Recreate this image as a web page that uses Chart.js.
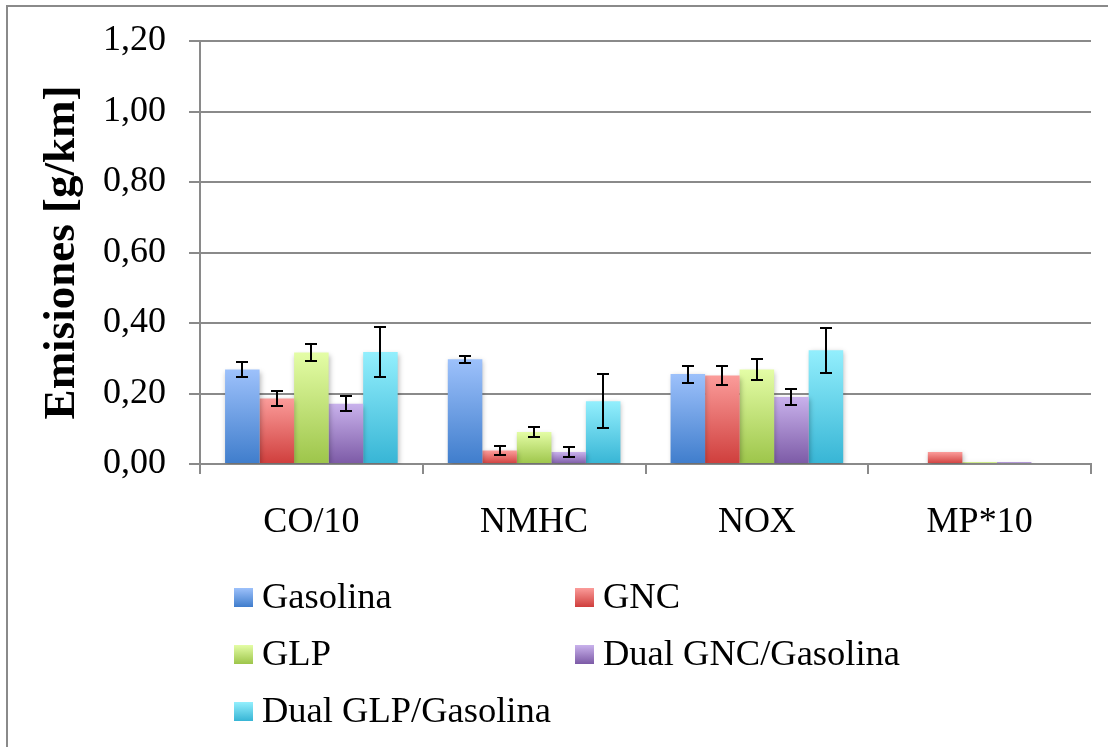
<!DOCTYPE html>
<html lang="es">
<head>
<meta charset="utf-8">
<title>Emisiones por combustible</title>
<script src="https://cdn.jsdelivr.net/npm/chart.js@4.4.1/dist/chart.umd.min.js"></script>
<style>
  html, body { margin: 0; padding: 0; background: #ffffff; }
  #wrap { position: relative; width: 1108px; height: 747px; overflow: hidden; }
  canvas { display: block; }
</style>
</head>
<body>
<div id="wrap"><canvas id="chart" width="1108" height="747"></canvas></div>
<script>
// Categories (pollutants)
const categories = ['CO/10', 'NMHC', 'NOX', 'MP*10'];

// Series labels
const seriesNames = ['Gasolina', 'GNC', 'GLP', 'Dual GNC/Gasolina', 'Dual GLP/Gasolina'];

// Mean emissions [g/km]
const gasolina = [0.268, 0.297, 0.255, 0];
const gnc      = [0.186, 0.038, 0.251, 0.034];
const glp      = [0.316, 0.091, 0.268, 0.006];
const dualGnc  = [0.171, 0.034, 0.190, 0.006];
const dualGlp  = [0.318, 0.178, 0.323, 0];

// Error bar half-widths [g/km]
const gasolinaErr = [0.020, 0.010, 0.024, null];
const gncErr      = [0.022, 0.012, 0.026, null];
const glpErr      = [0.025, 0.015, 0.029, null];
const dualGncErr  = [0.021, 0.014, 0.023, null];
const dualGlpErr  = [0.070, 0.077, 0.064, null];

// Y axis tick labels
const yTickLabels = ['0,00', '0,20', '0,40', '0,60', '0,80', '1,00', '1,20'];

// Top / bottom shades of each series gradient
const seriesShades = [
  ['#9dc1fb', '#3f7dcc'],
  ['#fb9c9a', '#cf3e3c'],
  ['#e4fda6', '#9dc54a'],
  ['#c9b2ec', '#7c5aa6'],
  ['#93effd', '#37b5d5']
];

const FONT = "'Liberation Serif', 'Times New Roman', serif";
const GRID = '#8a8a8a';

function barFill(idx) {
  return (ctx) => {
    const chart = ctx.chart;
    const [top, bottom] = seriesShades[idx];
    if (ctx.type !== 'data' || !chart.chartArea || !chart.scales.y) return bottom;
    const y = chart.scales.y;
    const pTop = y.getPixelForValue(ctx.raw);
    const pBase = y.getPixelForValue(0);
    if (pBase - pTop < 2) return bottom;
    const g = chart.ctx.createLinearGradient(0, pTop, 0, pBase);
    g.addColorStop(0, top);
    g.addColorStop(1, bottom);
    return g;
  };
}

const values = [gasolina, gnc, glp, dualGnc, dualGlp];
const errors = [gasolinaErr, gncErr, glpErr, dualGncErr, dualGlpErr];

const datasets = seriesNames.map((name, i) => ({
  label: name,
  data: values[i],
  errors: errors[i],
  backgroundColor: barFill(i),
  borderWidth: 0,
  categoryPercentage: 0.775,
  barPercentage: 1.0
}));

// Outer frame around the figure
const framePlugin = {
  id: 'frame',
  beforeDraw(chart) {
    const c = chart.ctx;
    c.save();
    c.fillStyle = '#ffffff';
    c.fillRect(0, 0, chart.width, chart.height);
    c.strokeStyle = '#8a8a8a';
    c.lineWidth = 2;
    c.strokeRect(7, 6, chart.width + 20, chart.height + 20);
    c.restore();
  }
};

// Soft drop shadow under the bars, then the error bars on top
const barDecor = {
  id: 'barDecor',
  beforeDatasetsDraw(chart) {
    const c = chart.ctx;
    c.save();
    c.shadowColor = 'rgba(0,0,0,0.28)';
    c.shadowBlur = 5;
    c.shadowOffsetX = 1;
    c.shadowOffsetY = 2;
  },
  afterDatasetsDraw(chart) {
    const c = chart.ctx;
    c.restore();
    const y = chart.scales.y;
    c.save();
    c.strokeStyle = '#000000';
    c.lineWidth = 2;
    chart.data.datasets.forEach((ds, di) => {
      const meta = chart.getDatasetMeta(di);
      meta.data.forEach((bar, i) => {
        const e = ds.errors[i];
        if (e == null) return;
        const v = ds.data[i];
        const yHi = Math.round(y.getPixelForValue(v + e));
        const yLo = Math.round(y.getPixelForValue(v - e));
        const x = Math.round(bar.x);
        const half = 6;
        c.beginPath();
        c.moveTo(x, yHi); c.lineTo(x, yLo);
        c.moveTo(x - half, yHi); c.lineTo(x + half, yHi);
        c.moveTo(x - half, yLo); c.lineTo(x + half, yLo);
        c.stroke();
      });
    });
    c.restore();
  }
};

// Two-column legend below the plot
const gridLegend = {
  id: 'gridLegend',
  afterDraw(chart) {
    const c = chart.ctx;
    const cols = [234, 575];
    const rows = [597.5, 654.5, 711.5];
    const box = 19;
    c.save();
    c.font = '36.5px ' + FONT;
    c.textBaseline = 'middle';
    c.textAlign = 'left';
    c.fillStyle = '#000000';
    chart.data.datasets.forEach((ds, i) => {
      const x = cols[i % 2];
      const yc = rows[Math.floor(i / 2)];
      const [top, bottom] = seriesShades[i];
      const g = c.createLinearGradient(0, yc - box / 2, 0, yc + box / 2);
      g.addColorStop(0, top);
      g.addColorStop(1, bottom);
      c.fillStyle = g;
      c.fillRect(x, yc - box / 2, box, box);
      c.fillStyle = '#000000';
      c.fillText(ds.label, x + 28, yc + 1);
    });
    c.restore();
  }
};

new Chart(document.getElementById('chart'), {
  type: 'bar',
  data: { labels: categories, datasets },
  plugins: [framePlugin, barDecor, gridLegend],
  options: {
    responsive: false,
    animation: false,
    devicePixelRatio: 1,
    layout: { padding: { left: 0, right: 17, top: 41, bottom: 0 } },
    plugins: {
      legend: { display: false },
      tooltip: { enabled: false }
    },
    scales: {
      x: {
        grid: {
          offset: true,
          drawOnChartArea: false,
          drawTicks: true,
          tickLength: 10,
          color: GRID,
          lineWidth: 2
        },
        border: { display: true, color: GRID, width: 2 },
        ticks: {
          color: '#000000',
          font: { family: FONT, size: 36 },
          padding: 27,
          maxRotation: 0
        },
        afterFit(scale) { scale.height = 283; }
      },
      y: {
        min: 0,
        max: 1.2,
        grid: {
          color: GRID,
          lineWidth: 2,
          drawTicks: true,
          tickLength: 11
        },
        border: { display: true, color: GRID, width: 2 },
        ticks: {
          stepSize: 0.2,
          color: '#000000',
          font: { family: FONT, size: 36 },
          padding: 23,
          callback: (v, i) => yTickLabels[i]
        },
        title: {
          display: true,
          text: 'Emisiones [g/km]',
          color: '#000000',
          font: { family: FONT, size: 45, weight: 'bold' },
          padding: { top: 35, bottom: 0 }
        },
        afterFit(scale) {
          scale.width = 200;
          // let the plot reach the top padding; labels fit in the margin
          scale.paddingTop = 0;
          scale.paddingBottom = 0;
        }
      }
    }
  }
});
</script>
</body>
</html>
